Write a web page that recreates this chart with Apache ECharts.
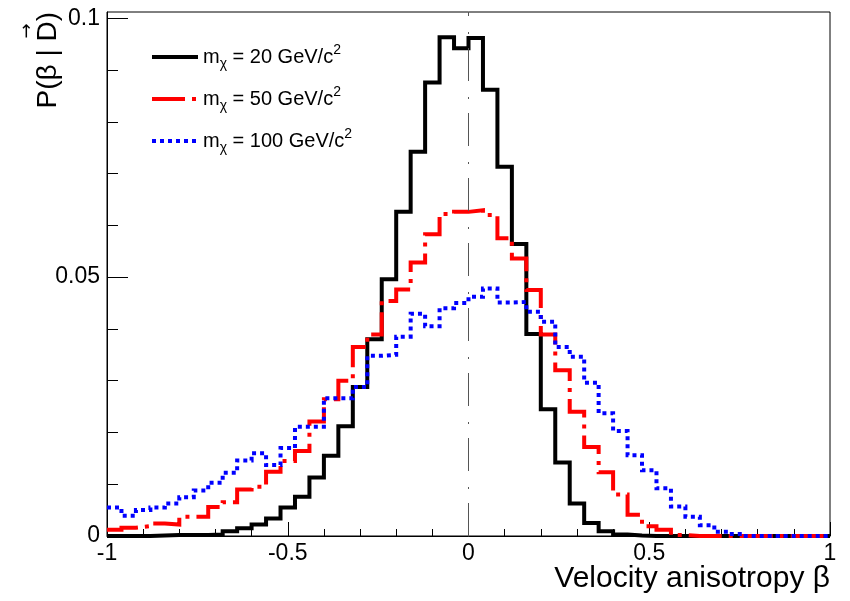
<!DOCTYPE html>
<html>
<head>
<meta charset="utf-8">
<script src="https://cdn.jsdelivr.net/npm/echarts@6/dist/echarts.min.js"></script>
<style>
  html, body { margin: 0; padding: 0; background: #fff; }
  #chart { width: 850px; height: 601px; }
</style>
</head>
<body>
<div id="chart"></div>
<script>
// ---- data (histogram bin contents, 50 bins of width 0.04 from -1 to 1) ----
const binLow = -1;
const binWidth = 0.04;
const masses = ['20', '50', '100'];
const seriesNames = ['m20', 'm50', 'm100'];
const prob20 = [0, 0, 0, 0.0001, 0.0002, 0.0002, 0.0002, 0.0003, 0.0009, 0.0015,
  0.0022, 0.0034, 0.0055, 0.0076, 0.0113, 0.0155, 0.0212, 0.0288, 0.0380, 0.0496,
  0.0626, 0.0742, 0.0876, 0.0963, 0.0942, 0.0962, 0.0862, 0.0713, 0.0564, 0.0390,
  0.0245, 0.0142, 0.0063, 0.0025, 0.0009, 0.0003, 0.0001, 0, 0, 0,
  0, 0, 0, 0, 0, 0, 0, 0, 0, 0];
const prob50 = [0.0012, 0.0016, 0.0019, 0.0024, 0.0022, 0.0037, 0.0037, 0.0056, 0.0065, 0.0090,
  0.0095, 0.0124, 0.0145, 0.0164, 0.0221, 0.0264, 0.0300, 0.0365, 0.0389, 0.0454,
  0.0476, 0.0528, 0.0583, 0.0622, 0.0626, 0.0629, 0.0620, 0.0575, 0.0536, 0.0475,
  0.0389, 0.0320, 0.0240, 0.0172, 0.0123, 0.0080, 0.0041, 0.0019, 0.0012, 0.0002,
  0, 0, 0, 0, 0, 0, 0, 0, 0, 0];
const prob100 = [0.0055, 0.0039, 0.0050, 0.0055, 0.0063, 0.0075, 0.0088, 0.0103, 0.0122, 0.0146,
  0.0160, 0.0137, 0.0170, 0.0211, 0.0211, 0.0266, 0.0266, 0.0288, 0.0348, 0.0350,
  0.0385, 0.0429, 0.0405, 0.0440, 0.0450, 0.0462, 0.0478, 0.0451, 0.0452, 0.0433,
  0.0414, 0.0365, 0.0346, 0.0296, 0.0237, 0.0203, 0.0156, 0.0127, 0.0092, 0.0057,
  0.0037, 0.0021, 0.0008, 0.0004, 0, 0, 0, 0, 0, 0];
const xTicksMajor = [-1, -0.5, 0, 0.5, 1];
const yTicksMajor = [0, 0.05, 0.1];
const yTicksMinor = [0.01, 0.02, 0.03, 0.04, 0.06, 0.07, 0.08, 0.09];

// build step data from bin edges
function stepData(vals) {
  const out = [];
  for (let k = 0; k < vals.length; k++) out.push([binLow + k * binWidth, vals[k]]);
  out.push([binLow + vals.length * binWidth, vals[vals.length - 1]]);
  return out;
}

const FONT = 'Liberation Sans, Arial, sans-serif';
const yMax = 0.1012;

const chart = echarts.init(document.getElementById('chart'), null, { renderer: 'canvas' });
const option = {
  animation: false,
  backgroundColor: '#fff',
  grid: { left: 107, right: 20, top: 12, bottom: 65, show: true, borderColor: '#000', borderWidth: 1, backgroundColor: 'transparent' },
  xAxis: {
    type: 'value', min: -1, max: 1, interval: 0.5,
    axisLine: { show: true, onZero: false, lineStyle: { color: '#000', width: 1 } },
    axisTick: { show: true, inside: true, length: 14, lineStyle: { color: '#000', width: 1 } },
    minorTick: { show: true, splitNumber: 5, length: 7, lineStyle: { color: '#000', width: 1 } },
    splitLine: { show: false },
    axisLabel: { color: '#000', fontFamily: FONT, fontSize: 23, margin: 6,
      formatter: v => String(v) }
  },
  yAxis: [{
    type: 'value', min: 0, max: yMax, position: 'left',
    axisLine: { show: true, onZero: false, lineStyle: { color: '#000', width: 1 } },
    axisTick: { show: true, inside: true, length: 21, customValues: yTicksMajor, lineStyle: { color: '#000', width: 1 } },
    splitLine: { show: false },
    axisLabel: { color: '#000', fontFamily: FONT, fontSize: 23, margin: 7, customValues: yTicksMajor,
      formatter: v => String(v) }
  }, {
    type: 'value', min: 0, max: yMax, position: 'left',
    axisLine: { show: false, onZero: false },
    axisTick: { show: true, inside: true, length: 11, customValues: yTicksMinor, lineStyle: { color: '#000', width: 1 } },
    splitLine: { show: false },
    axisLabel: { show: false }
  }],
  legend: {
    orient: 'vertical', left: 145, top: 38, itemWidth: 46, itemHeight: 14, itemGap: 14,
    data: seriesNames,
    itemStyle: { opacity: 0 },
    lineStyle: { width: 4 },
    formatter: function (name) {
      const i = seriesNames.indexOf(name);
      return '{m|m}{sub|χ}{t| = ' + masses[i] + ' GeV/c}{sup|2}';
    },
    textStyle: {
      color: '#000', fontFamily: FONT,
      rich: {
        m: { fontSize: 20, fontFamily: FONT, color: '#000', lineHeight: 28, verticalAlign: 'middle' },
        t: { fontSize: 20, fontFamily: FONT, color: '#000', lineHeight: 28, verticalAlign: 'middle' },
        sub: { fontSize: 14, fontFamily: FONT, color: '#000', lineHeight: 12, verticalAlign: 'bottom' },
        sup: { fontSize: 14, fontFamily: FONT, color: '#000', lineHeight: 14, verticalAlign: 'top' }
      }
    }
  },
  graphic: [
    { type: 'text', right: 20, top: 564,
      style: { text: 'Velocity anisotropy β', font: '30px ' + FONT, fill: '#000' } },
    { type: 'text', x: 48, y: 12, rotation: Math.PI / 2,
      style: { text: 'P(β | D)', font: '28px ' + FONT, fill: '#000', align: 'right', verticalAlign: 'middle' } },
    { type: 'text', x: 27, y: 31, rotation: Math.PI / 2,
      style: { text: '→', font: '18px DejaVu Sans', fill: '#000', align: 'center', verticalAlign: 'middle' } }
  ],
  series: [
    { name: seriesNames[0], type: 'line', step: 'end', symbol: 'none', data: stepData(prob20),
      color: '#000', lineStyle: { color: '#000', width: 4, cap: 'butt', join: 'miter' }, z: 2,
      markLine: { silent: true, symbol: 'none', label: { show: false }, animation: false,
        lineStyle: { color: '#555', width: 1, type: [33, 14, 2, 16] },
        data: [{ xAxis: 0 }] } },
    { name: seriesNames[1], type: 'line', step: 'end', symbol: 'none', data: stepData(prob50),
      color: '#ff0000', lineStyle: { color: '#ff0000', width: 4, type: [33, 7, 4, 7], cap: 'butt', join: 'miter' }, z: 3 },
    { name: seriesNames[2], type: 'line', step: 'end', symbol: 'none', data: stepData(prob100),
      color: '#0000ff', lineStyle: { color: '#0000ff', width: 4, type: [4, 4], cap: 'butt', join: 'miter' }, z: 4 }
  ]
};
chart.setOption(option);
</script>
</body>
</html>
